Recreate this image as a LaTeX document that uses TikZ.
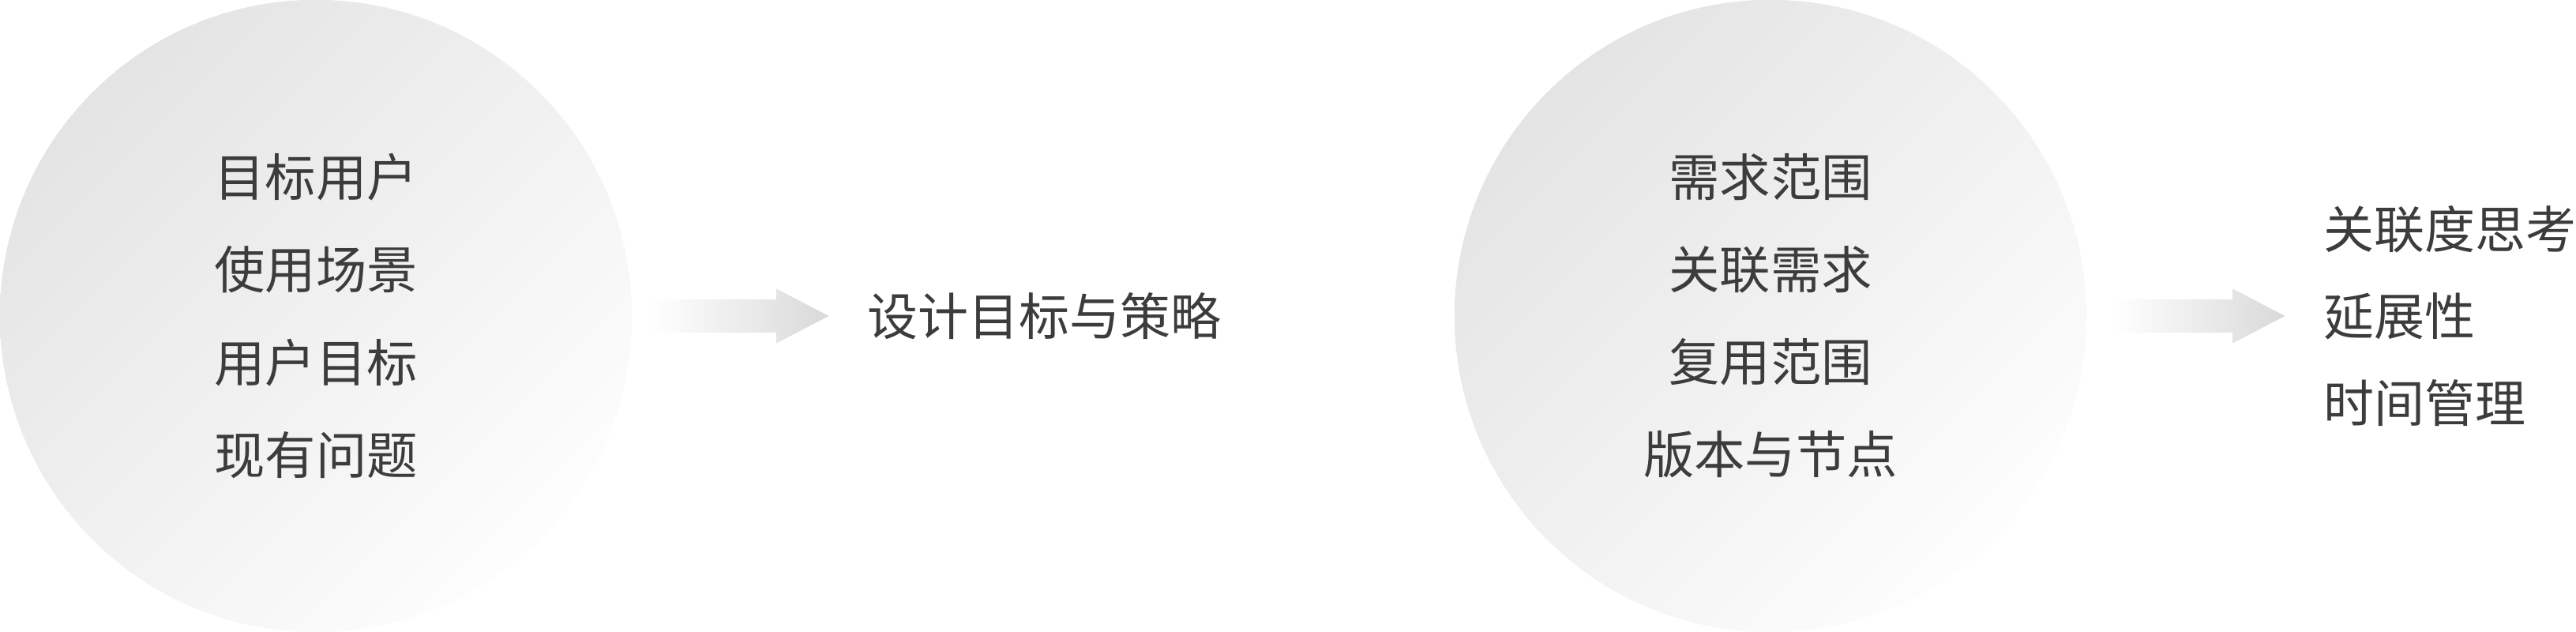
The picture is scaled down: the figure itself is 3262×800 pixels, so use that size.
\documentclass[tikz,border=0pt]{standalone}
\usepackage{fontspec}
\setmainfont{Noto Sans CJK SC}
\usepackage{xcolor}
\usepackage{tikz}
\usetikzlibrary{shapes.arrows}
\usetikzlibrary{positioning}
\definecolor{ringdark}{HTML}{E4E4E4}
\definecolor{ringlight}{HTML}{FDFDFD}
\definecolor{tipgray}{HTML}{D9D9D9}
\definecolor{wordgray}{HTML}{3C3C3C}

\begin{document}
\begin{tikzpicture}[x=0.01cm,y=0.01cm,semithick]
	\tikzstyle{ring}=[circle, draw=none, inner sep=0pt, minimum size=8cm, top color=ringdark, bottom color=ringlight, shading angle=45, text=wordgray, align=center, font=\fontsize{18.3}{33.3}\selectfont]
	\tikzstyle{flow}=[single arrow, draw=none, inner xsep=0pt, inner ysep=0.2cm, single arrow head extend=0.135cm, single arrow tip angle=55, left color=white, right color=tipgray]
	\tikzstyle{words}=[inner sep=0pt, text=wordgray, align=left, anchor=west, font=\fontsize{18.2}{31.3}\selectfont]
	\useasboundingbox (0,0) rectangle (3262,800);
	\node[ring]  (c1) at (400,400) {目标用户\\使用场景\\用户目标\\现有问题};
	\node[flow, minimum height=2.26cm]  (a1) [right=0.21cm of c1] {};
	\node[words]  (t1) [right=0.46cm of a1] {设计目标与策略};
	\node[ring]  (c2) at (2242,400) {需求范围\\关联需求\\复用范围\\版本与节点};
	\node[flow, minimum height=2.18cm]  (a2) [right=0.31cm of c2] {};
	\node[words]  (t2) [right=0.46cm of a2] {关联度思考\\延展性\\时间管理};
\end{tikzpicture}
\end{document}
